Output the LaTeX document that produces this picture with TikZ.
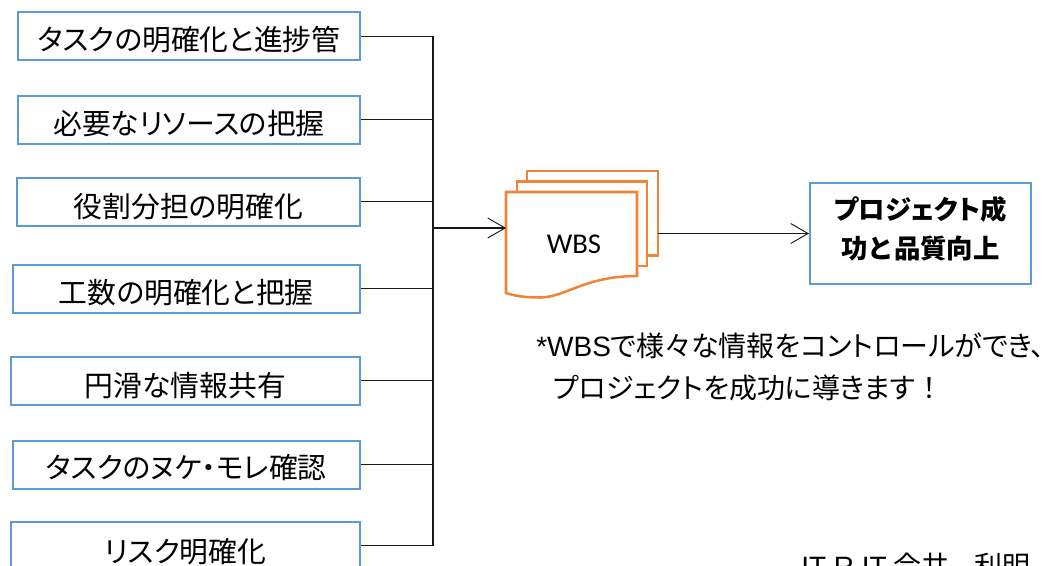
\documentclass[tikz,border=0pt]{standalone}
\usepackage{fontspec}
\usetikzlibrary{arrows.meta}
\setmainfont{Noto Sans CJK JP}
\newfontfamily\jpp[RawFeature=+palt]{Noto Sans CJK JP}
\newfontfamily\jpf{Noto Sans CJK JP}
\newfontfamily\latinf{Carlito}
\newfontfamily\arialf{Liberation Sans}
\definecolor{boxblue}{HTML}{5B9BD5}
\definecolor{docorange}{HTML}{F08539}
\tikzset{
  x=0.75pt,y=-0.75pt,
  itembox/.style={draw=boxblue,line width=1.5pt,fill=white,inner sep=0pt,minimum height=36pt,font=\jpp\fontsize{21.6}{26}\selectfont},
  link/.style={draw=black!90,line width=0.95pt},
  openarrow/.style={-{Straight Barb[length=13pt,width=15pt,line width=0.7pt]}},
  docpage/.style={draw=docorange,line width=1.9pt,fill=white,line join=miter},
  plaintext/.style={inner sep=0pt,anchor=west}
}
\newcommand{\lbl}[2][11.5pt]{\raisebox{-#1}[7pt][7pt]{#2}}
\begin{document}
\begin{tikzpicture}
\useasboundingbox (0,0) rectangle (1052,565);
% left boxes
\node[itembox,minimum width=255.9pt] (a) at (189,36.3) {\lbl[11pt]{タスクの明確化と進捗管}};
\node[itembox,minimum width=255.9pt] (b) at (189,119.7) {\lbl[11pt]{必要なリソースの把握}};
\node[itembox,minimum width=257pt] (c) at (188.3,201.5) {\lbl[12pt]{役割分担の明確化}};
\node[itembox,minimum width=260pt] (d) at (186.3,288.5) {\lbl{工数の明確化と把握}};
\node[itembox,minimum width=261.5pt] (e) at (185.3,380.8) {\lbl{円滑な情報共有}};
\node[itembox,minimum width=260pt] (f) at (186.3,464.5) {\lbl[10.5pt]{タスクのヌケ・モレ確認}};
\node[itembox,minimum width=261.5pt] (g) at (185.3,545.5) {\lbl[13pt]{リスク明確化}};
% bus
\coordinate (bustop) at (433,36.3);
\coordinate (busbot) at (433,545.5);
\coordinate (junction) at (433,228);
\coordinate (docin) at (506,228);
\coordinate (docout) at (658,233.5);
\draw[link] (a.east) -- (bustop) -- (busbot) -- (g.east);
\foreach \n in {b,c,d,e,f}{ \draw[link] (\n.east) -- (\n.east -| bustop); }
\draw[link,line width=1.4pt] (433,228) -- (433,464);
% documents
\draw[docpage] (527,171) rectangle (658,255.6);
\draw[docpage] (517,181.5) rectangle (647,266);
\draw[docpage] (506,192) -- (637,192) -- (637,276)
  .. controls (585,276) and (565,297.5) .. (540,297.5)
  .. controls (525,297.5) and (515,296) .. (506,293) -- cycle;
\node[inner sep=0pt,font=\latinf\fontsize{21.5}{24}\selectfont] (wbs) at (574,244) {WBS};
% result
\node[draw=boxblue,line width=1.5pt,fill=white,minimum width=165.8pt,minimum height=75.5pt,inner sep=0pt] (res) at (920.5,233.5) {};
\node[inner sep=0pt,align=center,font=\jpp\fontsize{19.8}{29.6}\bfseries\selectfont] (restext) at (920.5,229) {プロジェクト成\\{\jpf 功と品質向上}};
% arrows
\draw[link,line width=1.4pt,openarrow] (junction) -- (docin);
\draw[link,openarrow] (docout) -- (res.west);
% notes
\node[plaintext,font=\jpp\fontsize{21}{24}\selectfont] (n1) at (536,345.5) {{\arialf *WBS}で様々な情報をコントロールができ、};
\node[plaintext,font=\jpp\fontsize{21}{24}\selectfont] (n2) at (553,388) {プロジェクトを成功に導きます{\jpf ！}};
\node[plaintext,font=\jpf\fontsize{21}{24}\selectfont] (n3) at (801,566) {{\arialf IT R IT} 会井\hspace{0.9em}利明};
\end{tikzpicture}
\end{document}
